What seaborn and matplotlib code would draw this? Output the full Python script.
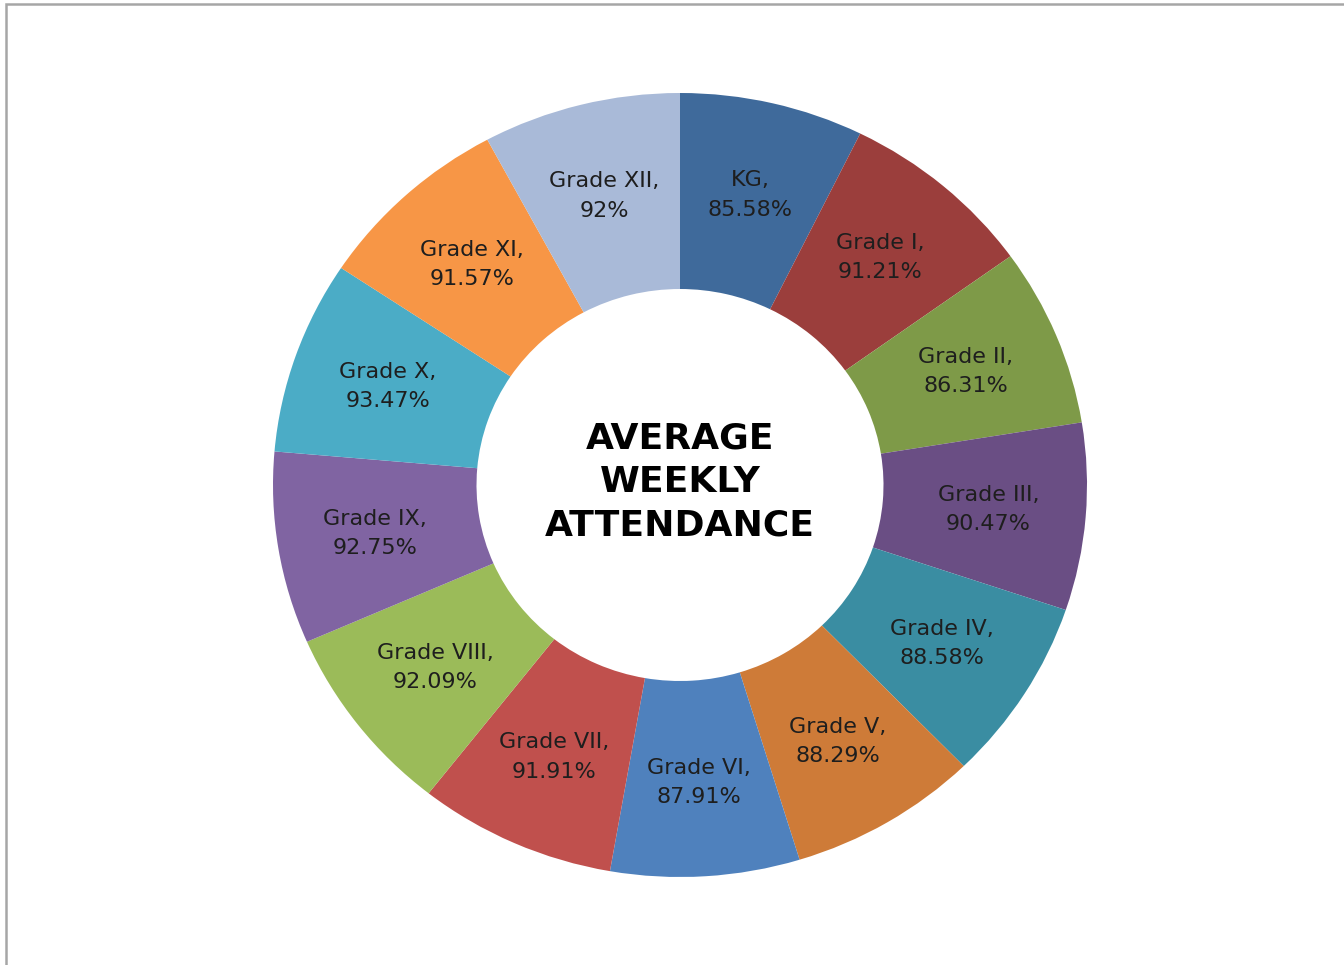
import matplotlib
matplotlib.use("Agg")
import matplotlib.pyplot as plt
import seaborn as sns
from matplotlib.patches import Rectangle

categories = ["KG", "Grade I", "Grade II", "Grade III", "Grade IV", "Grade V",
              "Grade VI", "Grade VII", "Grade VIII", "Grade IX", "Grade X",
              "Grade XI", "Grade XII"]
values = [85.58, 91.21, 86.31, 90.47, 88.58, 88.29, 87.91, 91.91, 92.09,
          92.75, 93.47, 91.57, 92.0]
value_labels = ["85.58%", "91.21%", "86.31%", "90.47%", "88.58%", "88.29%",
                "87.91%", "91.91%", "92.09%", "92.75%", "93.47%", "91.57%", "92%"]
colors = ["#3F6A9B", "#9B3E3C", "#7E9A48", "#6A4E84", "#3A8DA2", "#CE7B38",
          "#4F81BD", "#C0504D", "#9BBB59", "#8064A2", "#4BACC6", "#F79646",
          "#A9BAD8"]
title = "AVERAGE\nWEEKLY\nATTENDANCE"

sns.set_theme(style="white")
plt.rcParams['font.family'] = ['DejaVu Sans']

fig = plt.figure(figsize=(13.44, 9.65), dpi=100)
W, H = 1344, 965
cx, cy, rx, ry = 680, 485, 407, 392
ax = fig.add_axes([(cx - rx) / W, (H - cy - ry) / H, 2 * rx / W, 2 * ry / H])

palette = sns.color_palette(colors)
labels = [f"{c},\n{v}" for c, v in zip(categories, value_labels)]
wedges, texts = ax.pie(values, colors=palette, startangle=90, counterclock=False,
                       labels=labels, labeldistance=0.76,
                       wedgeprops=dict(width=0.5, linewidth=0),
                       textprops=dict(fontsize=16, color="#1e1e1e", linespacing=1.58))
for t in texts:
    t.set_ha("center")
    t.set_va("center")
ax.set_aspect('auto')
ax.set_xlim(-1, 1)
ax.set_ylim(-1, 1)
ax.axis('off')

ax.text(0, 0.008, title, ha="center", va="center", fontsize=26,
        fontweight="bold", color="black", linespacing=1.34)

# chart frame (top and left edges visible)
fig.patches.append(Rectangle((6 / W, -0.05), 1.2, (H - 3.5) / H + 0.05,
                             transform=fig.transFigure, fill=False,
                             edgecolor="#a6a6a6", linewidth=1.8))

fig.savefig("out.png", dpi=100, facecolor="white")
